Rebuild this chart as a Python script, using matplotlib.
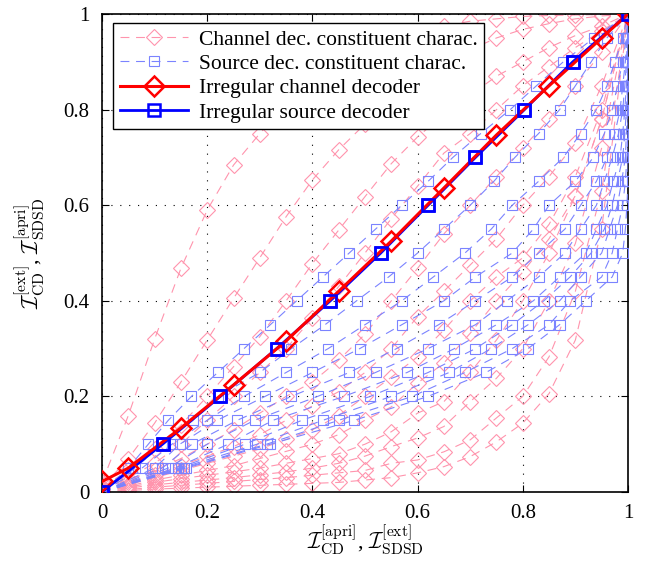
import numpy as np
import matplotlib
matplotlib.use('Agg')
import matplotlib.pyplot as plt

# abscissa of channel decoder curves / ordinate of source decoder curves
grid_pts = [0.0, 0.05, 0.1, 0.15, 0.2, 0.25, 0.3, 0.35, 0.4, 0.45, 0.5,
            0.55, 0.6, 0.65, 0.7, 0.75, 0.8, 0.85, 0.9, 0.95, 1.0]

# channel decoder constituent characteristics (y values at grid_pts)
cd1 = [.02, .16, .32, .468, .59, .684, .75, .81, .86, .90, .93, .95, .965, .975, .985, .99, .995, .997, .998, .999, 1]
cd2 = [.01, .07, .144, .23, .318, .405, .49, .576, .653, .716, .77, .82, .86, .895, .925, .95, .968, .98, .99, .996, 1]
cd3 = [.01, .045, .09, .14, .20, .262, .325, .40, .478, .548, .618, .687, .743, .79, .83, .87, .90, .93, .955, .975, 1]
cd4 = [.008, .03, .06, .10, .15, .20, .25, .30, .364, .43, .50, .572, .64, .709, .75, .80, .85, .89, .93, .965, 1]
cd5 = [.006, .025, .045, .07, .10, .13, .165, .20, .23, .276, .33, .40, .468, .54, .60, .66, .72, .78, .85, .92, 1]
cd6 = [.005, .02, .035, .055, .075, .095, .12, .15, .18, .21, .25, .30, .367, .42, .475, .53, .60, .66, .73, .85, 1]
cd7 = [.004, .015, .03, .045, .06, .075, .09, .11, .13, .16, .20, .24, .283, .339, .40, .45, .49, .56, .66, .80, 1]
cd8 = [.003, .012, .025, .035, .045, .055, .07, .085, .10, .12, .15, .178, .228, .27, .332, .40, .46, .53, .62, .78, 1]
cd9 = [.003, .01, .02, .028, .035, .042, .05, .06, .07, .08, .10, .126, .165, .189, .25, .318, .40, .50, .62, .78, 1]
cd10 = [.002, .008, .015, .02, .025, .03, .036, .042, .05, .06, .075, .095, .113, .137, .189, .238, .30, .40, .52, .72, 1]
cd11 = [.001, .005, .01, .014, .018, .022, .026, .03, .035, .04, .045, .06, .067, .084, .109, .155, .20, .283, .42, .63, 1]
cd12 = [.001, .003, .006, .008, .01, .012, .014, .016, .018, .02, .025, .03, .04, .053, .074, .105, .144, .206, .318, .55, 1]

# source decoder constituent characteristics (x values at grid_pts)
sd1 = [0, .05, .088, .126, .17, .22, .27, .32, .37, .42, .47, .52, .57, .62, .667, .72, .776, .826, .877, .935, 1]
sd2 = [0, .063, .114, .173, .22, .30, .36, .424, .484, .545, .60, .65, .70, .745, .785, .83, .87, .90, .93, .96, 1]
sd3 = [0, .076, .133, .20, .27, .35, .43, .50, .57, .63, .69, .74, .78, .83, .877, .91, .94, .96, .975, .99, 1]
sd4 = [0, .10, .148, .219, .31, .40, .49, .57, .65, .71, .78, .82, .85, .90, .934, .955, .97, .98, .99, .997, 1]
sd5 = [0, .114, .171, .257, .36, .47, .56, .64, .71, .78, .83, .88, .91, .94, .96, .975, .985, .99, .995, .998, 1]
sd6 = [0, .126, .20, .29, .41, .52, .62, .71, .77, .83, .88, .91, .94, .955, .97, .982, .99, .994, .997, .999, 1]
sd7 = [0, .139, .24, .325, .46, .58, .67, .75, .82, .87, .92, .94, .96, .972, .985, .99, .994, .997, .999, 1, 1]
sd8 = [0, .145, .272, .38, .51, .62, .71, .78, .84, .89, .93, .955, .97, .98, .99, .994, .997, .999, 1, 1, 1]
sd9 = [0, .15, .295, .42, .55, .66, .74, .81, .87, .91, .95, .965, .98, .988, .995, .997, .999, 1, 1, 1, 1]
sd10 = [0, .155, .313, .45, .59, .69, .78, .85, .89, .95, .97, .98, .99, .995, .998, 1, 1, 1, 1, 1, 1]
sd11 = [0, .16, .32, .48, .62, .73, .81, .87, .92, .97, .99, .995, .998, 1, 1, 1, 1, 1, 1, 1, 1]

# irregular channel decoder
irr_cd_x = [0, .05, .15, .25, .35, .45, .55, .65, .75, .85, .95, 1]
irr_cd_y = [.022, .05, .134, .224, .316, .42, .525, .636, .747, .85, .95, 1]

# irregular source decoder
irr_sd_x = [0, .115, .225, .332, .434, .53, .62, .71, .803, .895, 1]
irr_sd_y = [0, .1, .2, .3, .4, .5, .6, .7, .8, .9, 1]

ticks = [0, 0.2, 0.4, 0.6, 0.8, 1]
tick_labels = ['0', '0.2', '0.4', '0.6', '0.8', '1']

plt.rcParams['font.family'] = ['Liberation Serif', 'DejaVu Serif']
plt.rcParams['mathtext.fontset'] = 'cm'

pink = '#ff94ad'
lblue = '#7b83ff'
dash = (0, (8, 6))

fig = plt.figure(figsize=(6.47, 5.62), dpi=100)
ax = fig.add_axes([0.1577, 0.1246, 0.8129, 0.8504])

ch_curves = [cd1, cd2, cd3, cd4, cd5, cd6, cd7, cd8, cd9, cd10, cd11, cd12]
for c in ch_curves:
    h_ch, = ax.plot(grid_pts, c, color=pink, lw=0.8, linestyle=dash,
                    marker='D', markersize=8.5, markerfacecolor='none',
                    markeredgecolor=pink, markeredgewidth=0.8, zorder=2)

src_curves = [sd1, sd2, sd3, sd4, sd5, sd6, sd7, sd8, sd9, sd10, sd11]
for c in src_curves:
    h_sd, = ax.plot(c, grid_pts, color=lblue, lw=0.8, linestyle=dash,
                    marker='s', markersize=7.5, markerfacecolor='none',
                    markeredgecolor=lblue, markeredgewidth=0.8, zorder=3)

h_isd, = ax.plot(irr_sd_x, irr_sd_y, color='#0000ff', lw=2.0, marker='s',
                 markersize=9, markerfacecolor='none', markeredgewidth=1.8, zorder=4)
h_icd, = ax.plot(irr_cd_x, irr_cd_y, color='#ff0000', lw=2.2, marker='D',
                 markersize=10, markerfacecolor='none', markeredgewidth=1.8, zorder=5)
# source decoder markers on top again
ax.plot(irr_sd_x, irr_sd_y, linestyle='none', marker='s', markersize=9,
        markerfacecolor='none', markeredgecolor='#0000ff', markeredgewidth=1.8, zorder=6)

ax.set_xlim(0, 1)
ax.set_ylim(0, 1)
ax.set_xticks(ticks)
ax.set_yticks(ticks)
ax.set_xticklabels(tick_labels)
ax.set_yticklabels(tick_labels)
ax.tick_params(direction='in', top=True, right=True, length=5, width=0.8,
               labelsize=15)
ax.tick_params(axis='x', pad=9)
ax.tick_params(axis='y', pad=9)
ax.grid(True, color='black', linestyle=(0, (1, 7)), linewidth=0.8)
for sp in ax.spines.values():
    sp.set_linewidth(1.2)

ax.set_xlabel(r'$\mathcal{I}_{\mathrm{CD}}^{[\mathrm{apri}]}$, $\mathcal{I}_{\mathrm{SDSD}}^{[\mathrm{ext}]}$',
              fontsize=16, labelpad=0)
ax.set_ylabel(r'$\mathcal{I}_{\mathrm{CD}}^{[\mathrm{ext}]}$, $\mathcal{I}_{\mathrm{SDSD}}^{[\mathrm{apri}]}$',
              fontsize=16, labelpad=12)

leg = ax.legend([h_ch, h_sd, h_icd, h_isd],
                ['Channel dec. constituent charac.', 'Source dec. constituent charac.',
                 'Irregular channel decoder', 'Irregular source decoder'],
                loc='upper left', bbox_to_anchor=(0.021, 0.981), fontsize=15.5,
                fancybox=False, framealpha=1, edgecolor='black',
                handlelength=3.2, borderpad=0.3, labelspacing=0.2, handletextpad=0.5,
                borderaxespad=0)
leg.get_frame().set_linewidth(1.0)
leg.set_zorder(10)

fig.savefig('out.png', dpi=100)
